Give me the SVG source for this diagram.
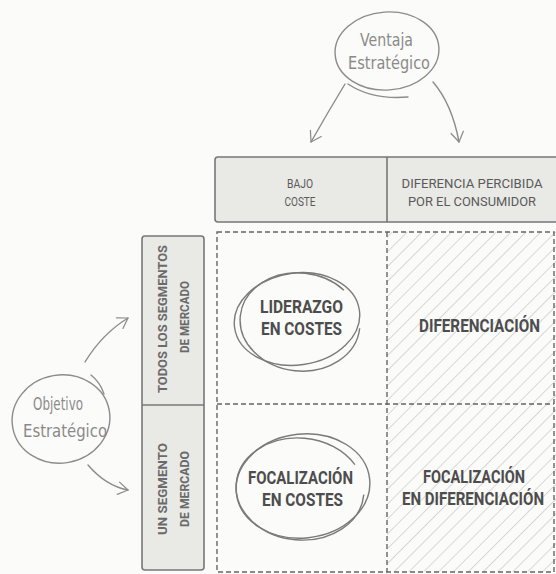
<svg xmlns="http://www.w3.org/2000/svg" width="556" height="574" viewBox="0 0 556 574">
  <style>
    .hand { font-family: "DejaVu Sans", "Liberation Sans", sans-serif; font-size: 18px; fill: #8a8a8a; }
    .head { font-family: "Roboto", "Liberation Sans", sans-serif; font-size: 13px; fill: #5a5a5a; text-anchor: middle; }
    .side { font-family: "Roboto", "Liberation Sans", sans-serif; font-size: 12.5px; font-weight: bold; fill: #6a6a6a; text-anchor: middle; }
    .cell { font-family: "Roboto", "Liberation Sans", sans-serif; font-size: 18.5px; font-weight: bold; fill: #4d4d4d; text-anchor: middle; }
    .box { fill: #e9e9e5; stroke: #777; stroke-width: 1.6; }
    .grid { fill: none; stroke: #666; stroke-width: 1.4; stroke-dasharray: 5 3; }
    .loop { fill: none; stroke: #7a7a7a; stroke-width: 1.4; }
    .sketch { fill: none; stroke: #8c8c8c; stroke-width: 1.4; stroke-linecap: round; }
  </style>
  <defs>
    <pattern id="hatch" patternUnits="userSpaceOnUse" width="10.5" height="10.5" patternTransform="rotate(45)">
      <line x1="0" y1="0" x2="0" y2="10.5" stroke="#b4b4b4" stroke-width="1"/>
    </pattern>
    <marker id="open" markerUnits="userSpaceOnUse" markerWidth="16" markerHeight="16" refX="0" refY="0" viewBox="-14 -9 16 18" orient="auto">
      <path d="M -11 -7 L 0 0 L -11 7" fill="none" stroke="#8c8c8c" stroke-width="1.4" stroke-linecap="round" stroke-linejoin="round"/>
    </marker>
  </defs>

  <rect width="556" height="574" fill="#fbfbf9"/>

  <!-- hatched differentiation column -->
  <rect x="387" y="232" width="169" height="340" fill="url(#hatch)"/>

  <!-- header row -->
  <g id="header">
    <rect class="box" x="215" y="157" width="350" height="65" rx="3"/>
    <line x1="387" y1="157" x2="387" y2="222" stroke="#777" stroke-width="1.6"/>
    <text class="head" x="300" y="188" textLength="26" lengthAdjust="spacingAndGlyphs">BAJO</text>
    <text class="head" x="300" y="206" textLength="31" lengthAdjust="spacingAndGlyphs">COSTE</text>
    <text class="head" x="472" y="188" textLength="141" lengthAdjust="spacingAndGlyphs">DIFERENCIA PERCIBIDA</text>
    <text class="head" x="472" y="206" textLength="128" lengthAdjust="spacingAndGlyphs">POR EL CONSUMIDOR</text>
  </g>

  <!-- side column -->
  <g id="side">
    <rect class="box" x="142" y="236" width="62" height="334" rx="3"/>
    <line x1="142" y1="405" x2="204" y2="405" stroke="#777" stroke-width="1.6"/>
    <text class="side" transform="translate(167,319) rotate(-90)" textLength="148" lengthAdjust="spacingAndGlyphs">TODOS LOS SEGMENTOS</text>
    <text class="side" transform="translate(189,317) rotate(-90)" textLength="72" lengthAdjust="spacingAndGlyphs">DE MERCADO</text>
    <text class="side" transform="translate(167,489) rotate(-90)" textLength="92" lengthAdjust="spacingAndGlyphs">UN SEGMENTO</text>
    <text class="side" transform="translate(189,489) rotate(-90)" textLength="76" lengthAdjust="spacingAndGlyphs">DE MERCADO</text>
  </g>

  <!-- dashed matrix -->
  <g id="matrix">
    <rect class="grid" x="217" y="232" width="337" height="340"/>
    <line class="grid" x1="387" y1="232" x2="387" y2="572"/>
    <line class="grid" x1="217" y1="404" x2="554" y2="404"/>
  </g>

  <g id="cell-liderazgo">
    <ellipse class="loop" cx="297" cy="319" rx="63" ry="46" transform="rotate(-8 297 319)"/>
    <ellipse class="loop" cx="300" cy="322" rx="60" ry="49" transform="rotate(6 300 322)" stroke-dasharray="300 80"/>
    <text class="cell" x="301.5" y="313" textLength="83" lengthAdjust="spacingAndGlyphs">LIDERAZGO</text>
    <text class="cell" x="301.5" y="335" textLength="81" lengthAdjust="spacingAndGlyphs">EN COSTES</text>
  </g>

  <g id="cell-diferenciacion">
    <text class="cell" x="479.5" y="332" textLength="121" lengthAdjust="spacingAndGlyphs">DIFERENCIACIÓN</text>
  </g>

  <g id="cell-focalizacion-costes">
    <ellipse class="loop" cx="303" cy="486" rx="67" ry="52" transform="rotate(-6 303 486)"/>
    <ellipse class="loop" cx="300" cy="489" rx="64" ry="51" transform="rotate(5 300 489)" stroke-dasharray="330 80"/>
    <text class="cell" x="300.5" y="484" textLength="105" lengthAdjust="spacingAndGlyphs">FOCALIZACIÓN</text>
    <text class="cell" x="302.5" y="506" textLength="81" lengthAdjust="spacingAndGlyphs">EN COSTES</text>
  </g>

  <g id="cell-focalizacion-diferenciacion">
    <text class="cell" x="474" y="483" textLength="102" lengthAdjust="spacingAndGlyphs">FOCALIZACIÓN</text>
    <text class="cell" x="473" y="505" textLength="142" lengthAdjust="spacingAndGlyphs">EN DIFERENCIACIÓN</text>
  </g>

  <g id="bubble-ventaja">
    <ellipse class="sketch" cx="387" cy="51" rx="52" ry="39" transform="rotate(-4 387 51)"/>
    <path class="sketch" d="M 348 84 Q 372 100 408 97"/>
    <text class="hand" x="360" y="46" textLength="53" lengthAdjust="spacingAndGlyphs">Ventaja</text>
    <text class="hand" x="348" y="69" textLength="82" lengthAdjust="spacingAndGlyphs">Estratégico</text>
  </g>

  <g id="bubble-objetivo">
    <ellipse class="sketch" cx="61" cy="419" rx="49" ry="44" transform="rotate(-10 61 419)"/>
    <path class="sketch" d="M 91 375 Q 100 382 104 394"/>
    <text class="hand" x="33" y="410" textLength="50" lengthAdjust="spacingAndGlyphs">Objetivo</text>
    <text class="hand" x="23" y="437" textLength="84" lengthAdjust="spacingAndGlyphs">Estratégico</text>
  </g>

  <!-- connectors -->
  <g id="connectors">
    <path class="sketch" d="M 345 84 Q 328 112 311 142" marker-end="url(#open)"/>
    <path class="sketch" d="M 433 82 Q 452 104 459 142" marker-end="url(#open)"/>
    <path class="sketch" d="M 85 362 Q 102 334 128 318" marker-end="url(#open)"/>
    <path class="sketch" d="M 88 465 Q 106 486 128 490" marker-end="url(#open)"/>
  </g>
</svg>
